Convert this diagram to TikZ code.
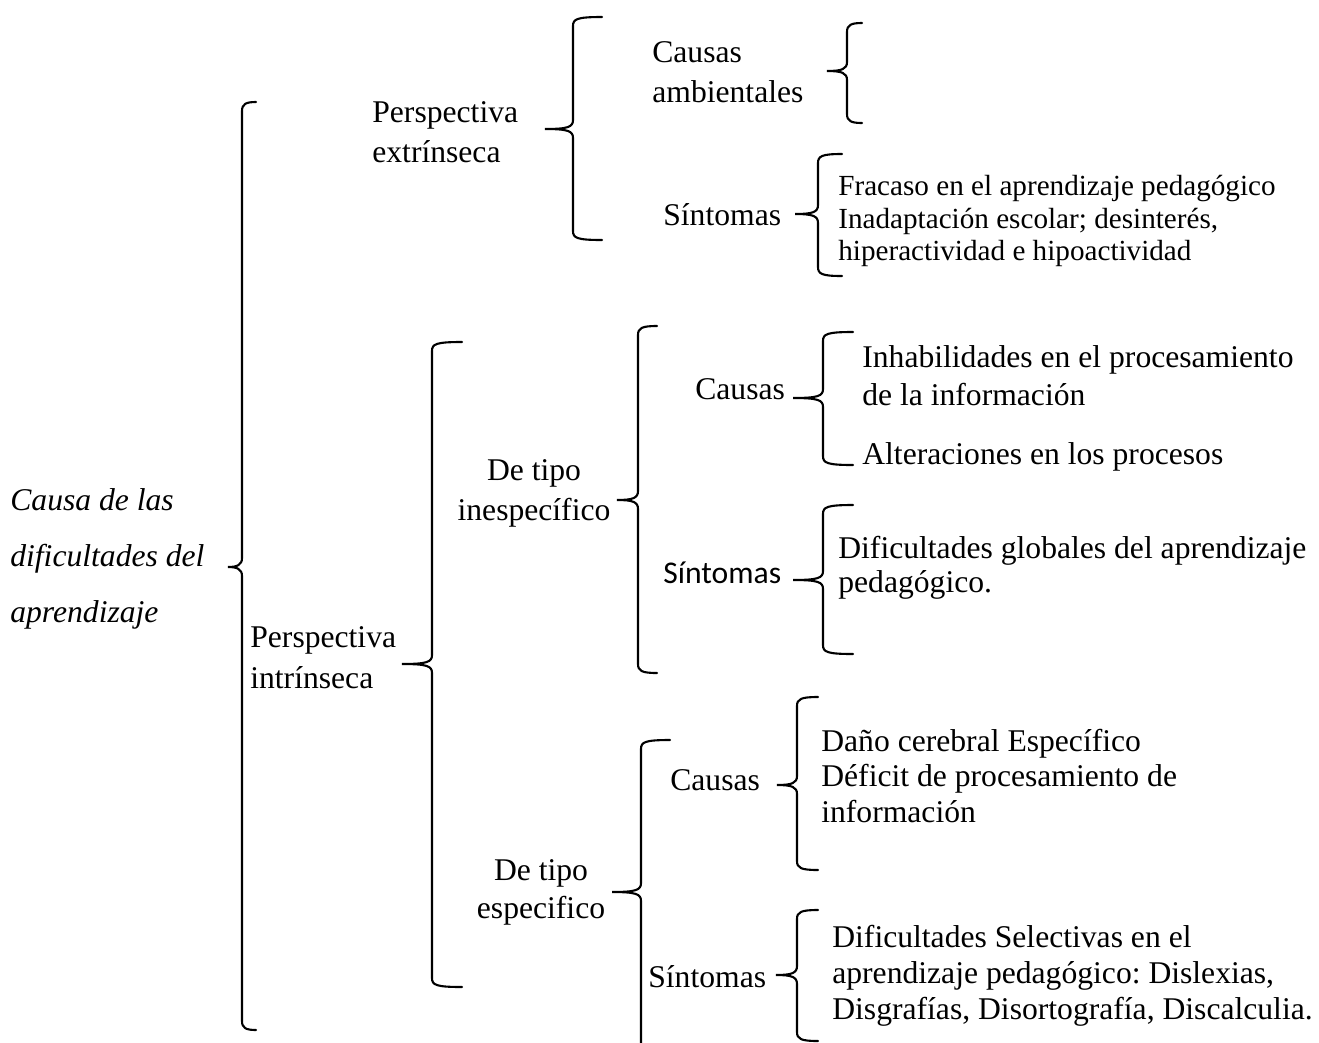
\documentclass[tikz,border=0pt]{standalone}
\usepackage{fontspec}
\setmainfont{Liberation Serif}
\newfontfamily\calibri{Carlito}
\frenchspacing
\begin{document}
\begin{tikzpicture}[x=0.02cm, y=-0.02cm,
		txt/.style={anchor=west, inner sep=0pt, align=left, font=\fontsize{18}{#1}\selectfont},
		txt/.default=22.7,
		llave/.style={line width=1.2pt, line cap=round}]
		\useasboundingbox (0,0) rectangle (1319,1042);

		% texts
		\node[txt=31.7, font=\itshape\fontsize{18}{31.7}\selectfont] (raiz) at (10,559) {Causa de las\\dificultades del\\aprendizaje};
		\node[txt] (pext) at (372,132) {Perspectiva\\extrínseca};
		\node[txt=23.2] (pint) at (250,658) {Perspectiva\\intrínseca};
		\node[txt] (camb) at (652,72) {Causas\\ambientales};
		\node[txt] (sext) at (663,215) {Síntomas};
		\node[txt, font=\fontsize{16.6}{18.7}\selectfont] (sext-t) at (838,221) {Fracaso en el aprendizaje pedagógico\\Inadaptación escolar; desinterés,\\hiperactividad e hipoactividad};
		\node[txt, anchor=center, align=center] (inesp) at (534,493) {De tipo\\inespecífico};
		\node[txt] (cau1) at (695,389) {Causas};
		\node[txt=21.5] (cau1-a) at (862,376) {Inhabilidades en el procesamiento\\de la información};
		\node[txt] (cau1-b) at (862,457) {Alteraciones en los procesos};
		\node[txt, font=\calibri\fontsize{18}{20}\selectfont] (sin1) at (663,573) {Síntomas};
		\node[txt=19.3] (sin1-t) at (838,568) {Dificultades globales del aprendizaje\\pedagógico.};
		\node[txt=21.5, anchor=center, align=center] (esp) at (541,892) {De tipo\\especifico};
		\node[txt] (cau2) at (670,780) {Causas};
		\node[txt=20.4] (cau2-t) at (821,776) {Daño cerebral Específico\\Déficit de procesamiento de\\información};
		\node[txt] (sin2) at (648,977) {Síntomas};
		\node[txt=20.4] (sin2-t) at (832,976) {Dificultades Selectivas en el\\aprendizaje pedagógico: Dislexias,\\Disgrafías, Disortografía, Discalculia.};

		% braces: x/top/bottom/tip x/tip y/hook end
		\foreach \x/\a/\b/\tx/\ty/\h in {242/102/1030/228/567/256, 573/17/240/545/129/602,
			847/23/123/827/71/862, 818/154/276/795/214/842, 432/342/987/402/664/462,
			638/326/673/617/500/657, 823/332/465/793/398/853, 823/505/654/793/580/853,
			641/740/1070/612/892/670, 797/697/870/777/785/818, 797/910/1041/776/975/818}
			\draw[llave] (\h,\a) .. controls (\x+4,\a) and (\x,\a+2) .. (\x,\a+9) -- (\x,\ty-9)
				.. controls (\x,\ty-2) and (\x-5,\ty) .. (\tx,\ty)
				.. controls (\x-5,\ty) and (\x,\ty+2) .. (\x,\ty+9) -- (\x,\b-9)
				.. controls (\x,\b-2) and (\x+4,\b) .. (\h,\b);
	\end{tikzpicture}
\end{document}
